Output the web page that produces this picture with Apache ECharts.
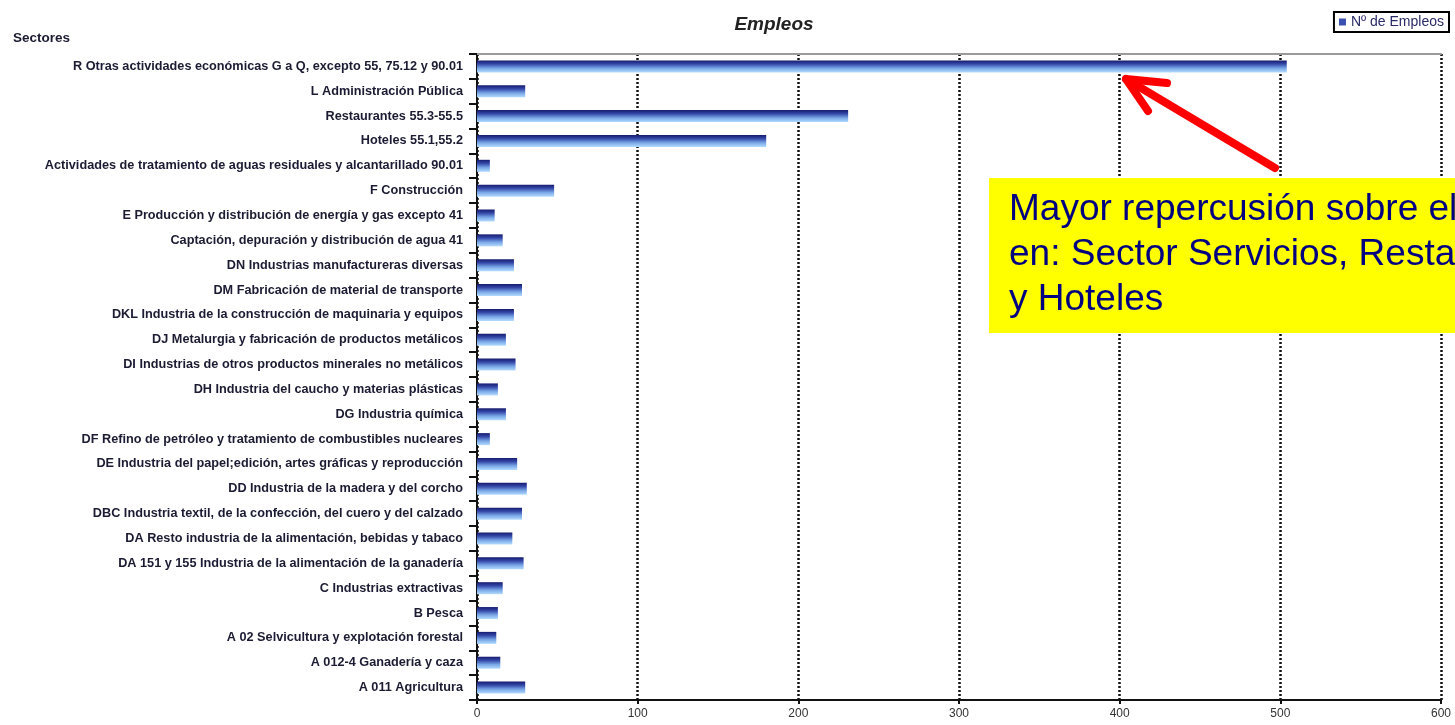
<!DOCTYPE html>
<html>
<head>
<meta charset="utf-8">
<title>Empleos</title>
<script src="https://cdn.jsdelivr.net/npm/echarts@6/dist/echarts.min.js"></script>
<style>
  html, body { margin: 0; padding: 0; background: #fff; }
  #empleos { width: 1455px; height: 725px; }
</style>
</head>
<body>
<div id="empleos"></div>
<script>
// sectores, de arriba abajo
var sectores = [
  'R Otras actividades económicas G a Q, excepto 55, 75.12 y 90.01',
  'L Administración Pública',
  'Restaurantes 55.3-55.5',
  'Hoteles 55.1,55.2',
  'Actividades de tratamiento de aguas residuales y alcantarillado 90.01',
  'F Construcción',
  'E Producción y distribución de energía y gas excepto 41',
  'Captación, depuración y distribución de agua 41',
  'DN Industrias manufactureras diversas',
  'DM Fabricación de material de transporte',
  'DKL Industria de la construcción de maquinaria y equipos',
  'DJ Metalurgia y fabricación de productos metálicos',
  'DI Industrias de otros productos minerales no metálicos',
  'DH Industria del caucho y materias plásticas',
  'DG Industria química',
  'DF Refino de petróleo y tratamiento de combustibles nucleares',
  'DE Industria del papel;edición, artes gráficas y reproducción',
  'DD Industria de la madera y del corcho',
  'DBC Industria textil, de la confección, del cuero y del calzado',
  'DA Resto industria de la alimentación, bebidas y tabaco',
  'DA 151 y 155 Industria de la alimentación de la ganadería',
  'C Industrias extractivas',
  'B Pesca',
  'A 02 Selvicultura y explotación forestal',
  'A 012-4 Ganadería y caza',
  'A 011 Agricultura'
]

var empleos = [504, 30, 231, 180, 8, 48, 11, 16, 23, 28, 23, 18, 24, 13, 18, 8, 25, 31, 28, 22, 29, 16, 13, 12, 14.5, 30]

var ejeX = [0, 100, 200, 300, 400, 500, 600]

var nota = [
  'Mayor repercusión sobre el empleo',
  'en: Sector Servicios, Restaurantes',
  'y Hoteles'
]

var chart = echarts.init(document.getElementById('empleos'))

function barColor () {
  return new echarts.graphic.LinearGradient(0, 0, 0, 1, [
    { offset: 0, color: '#161a6e' },
    { offset: 0.3, color: '#3448a8' },
    { offset: 0.65, color: '#78a6e6' },
    { offset: 1, color: '#b4dcff' }
  ])
}

function getOptions () {
  var labelFont = 'Liberation Sans, Arial, sans-serif'
  return {
    animation: false,
    title: {
      text: 'Empleos',
      left: 769,
      top: 10,
      textAlign: 'center',
      textStyle: {
        fontFamily: labelFont,
        fontSize: 19,
        fontWeight: 'bold',
        fontStyle: 'italic',
        color: '#222'
      }
    },
    legend: {
      right: 6,
      top: 12,
      itemWidth: 7,
      itemHeight: 7,
      itemGap: 4,
      padding: [3, 5],
      borderColor: '#000',
      borderWidth: 2,
      textStyle: { fontFamily: labelFont, fontSize: 14, color: '#2a2a66' },
      data: [{ name: 'Nº de Empleos', icon: 'rect', itemStyle: { color: '#3a4fb0' } }]
    },
    grid: {
      left: 477,
      right: 14,
      top: 54,
      bottom: 25
    },
    xAxis: [
      {
        type: 'value',
        min: 0,
        max: 600,
        interval: 100,
        axisLine: { show: true, lineStyle: { color: '#111', width: 2 } },
        axisTick: { show: true, length: 4, lineStyle: { color: '#111', width: 2 } },
        axisLabel: {
          margin: 8,
          fontFamily: labelFont,
          fontSize: 12,
          color: '#333',
          formatter: function (v) { return ejeX.indexOf(v) >= 0 ? String(v) : '' }
        },
        splitLine: { show: true, lineStyle: { color: '#111', width: 2.5, type: [2, 2] } }
      },
      {
        type: 'value',
        position: 'top',
        min: 0,
        max: 600,
        axisLine: { show: true, lineStyle: { color: '#9a9a9a', width: 2 } },
        axisTick: { show: false },
        axisLabel: { show: false },
        splitLine: { show: false }
      }
    ],
    yAxis: {
      type: 'category',
      inverse: true,
      data: sectores,
      axisLine: { show: true, lineStyle: { color: '#111', width: 2 } },
      axisTick: { show: true, length: 8, lineStyle: { color: '#111', width: 2 } },
      axisLabel: {
        margin: 14,
        fontFamily: labelFont,
        fontSize: 12.7,
        fontWeight: 'bold',
        color: '#1b1b33'
      }
    },
    series: [{
      name: 'Nº de Empleos',
      type: 'bar',
      barWidth: 12,
      data: empleos,
      itemStyle: { color: barColor() }
    }],
    graphic: getNota()
  }
}

function getNota () {
  var items = [{
    type: 'text',
    x: 13,
    y: 38,
    style: {
      text: 'Sectores',
      fill: '#1b1b33',
      font: 'bold 13.5px Liberation Sans, Arial, sans-serif',
      verticalAlign: 'middle'
    }
  }, {
    type: 'rect',
    shape: { x: 989, y: 178, width: 480, height: 155 },
    style: { fill: '#ffff00' },
    z: 10
  }]
  nota.forEach(function (line, i) {
    items.push({
      type: 'text',
      x: 1009,
      y: 210 + i * 45,
      z: 11,
      style: {
        text: line,
        fill: '#000080',
        font: '37px Liberation Sans, Arial, sans-serif',
        verticalAlign: 'middle'
      }
    })
  })
  // flecha roja
  items.push({
    type: 'polyline',
    shape: { points: [[1275, 168], [1126, 79]] },
    style: { stroke: '#ff0000', lineWidth: 8, lineCap: 'round' },
    z: 12
  })
  items.push({
    type: 'polyline',
    shape: { points: [[1167, 83], [1126, 79], [1148, 111]] },
    style: { stroke: '#ff0000', fill: null, lineWidth: 8, lineCap: 'round', lineJoin: 'round' },
    z: 12
  })
  return items
}

chart.setOption(getOptions())
</script>
</body>
</html>
